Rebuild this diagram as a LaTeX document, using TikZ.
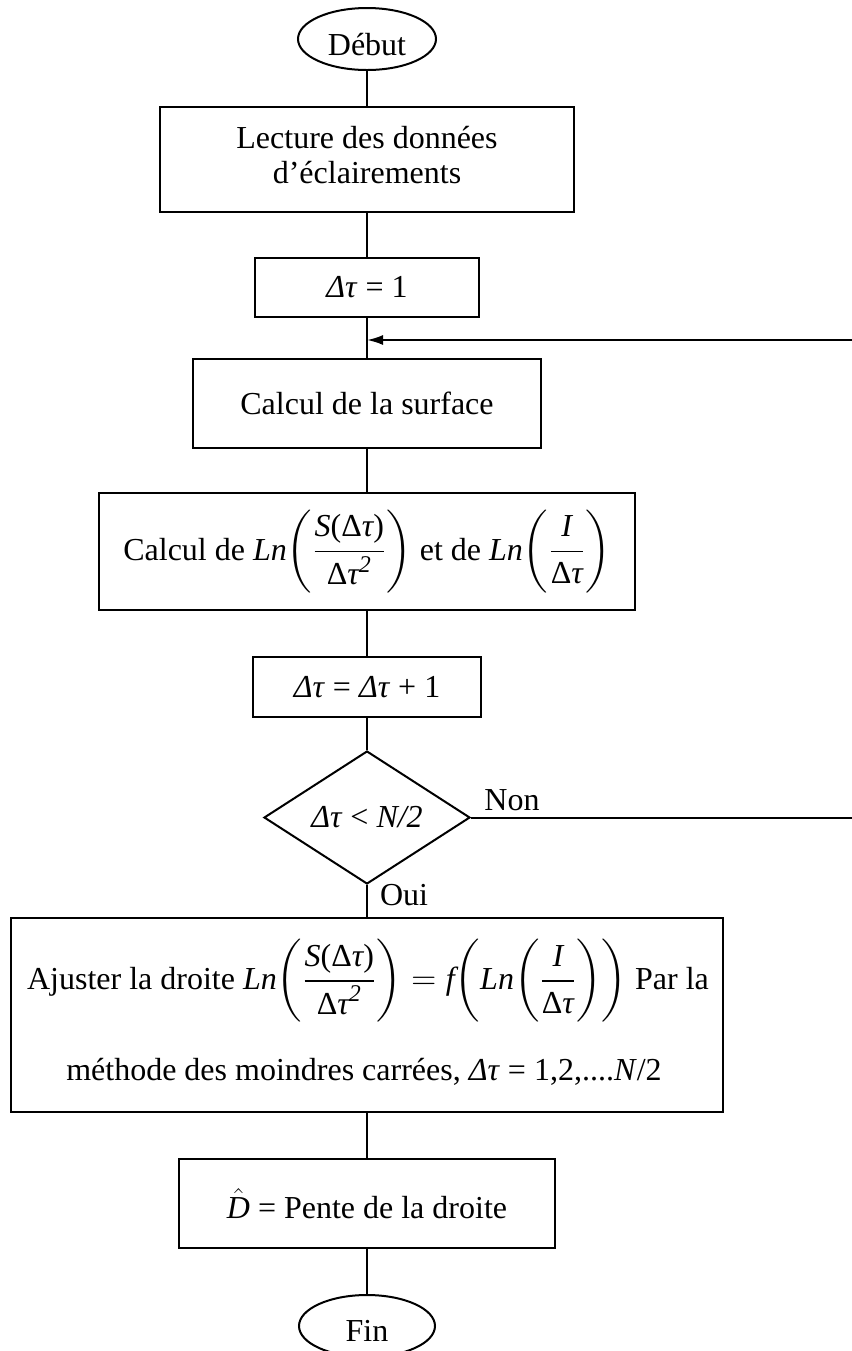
\documentclass[tikz,border=0pt]{standalone}
\usepackage{fontspec}
\setmainfont{Liberation Serif}
\usepackage{amsmath}
\usetikzlibrary{shapes.geometric,arrows.meta}
\newcommand{\ti}[1]{\mbox{\itshape #1}}
\newcommand{\dtu}{\mbox{Δ\itshape τ}}
\newcommand{\sqtwo}{\mbox{\fontsize{12}{12}\selectfont\itshape 2}}
\begin{document}
\begin{tikzpicture}[x=0.5pt,y=-0.5pt,
  every node/.style={font=\fontsize{16}{17.5}\selectfont},
  procbox/.style={draw,line width=1pt,rectangle,inner sep=0pt,align=center},
  term/.style={draw,line width=1pt,ellipse,inner sep=0pt},
  decision/.style={draw,line width=1pt,diamond,inner sep=0pt},
  link/.style={line width=1pt},
  lbl/.style={inner sep=0pt}]
\useasboundingbox (0,0) rectangle (852,1351);
% nodes
\node[term,minimum width=69pt,minimum height=31pt] (debut) at (367,39) {};
\node[lbl] (debuttxt) at (367,45) {Début};
\node[procbox,minimum width=207pt,minimum height=52.5pt] (box1) at (367,159.5) {};
\node[lbl,align=center] (box1txt) at (367,155) {Lecture des données\\d’éclairements};
\node[procbox,minimum width=112pt,minimum height=29.5pt] (box2) at (367,287.5) {\textit{Δτ} = 1};
\node[procbox,minimum width=174pt,minimum height=44.5pt] (box3) at (367,403.5) {Calcul de la surface};
\node[procbox,minimum width=268pt,minimum height=58.5pt] (box4) at (367,551.5)
  {Calcul de $\ti{Ln}\!\left(\dfrac{\ti{S}\mbox{(}\dtu\mbox{)}}{\dtu^{\sqtwo}}\right)$ et de $\ti{Ln}\!\left(\dfrac{\ti{I}}{\dtu}\right)$};
\node[procbox,minimum width=114pt,minimum height=30pt] (box5) at (367,687) {\textit{Δτ} = \textit{Δτ} + 1};
\node[decision,minimum width=103pt,minimum height=58.5pt] (dec) at (367,817.5) {\textit{Δτ} < \textit{N/2}};
\node[procbox,minimum width=356pt,minimum height=97pt] (box6) at (367,1015) {};
\node[lbl] (row1) at (368,981)
  {Ajuster la droite $\ti{Ln}\!\left(\dfrac{\ti{S}\mbox{(}\dtu\mbox{)}}{\dtu^{\sqtwo}}\right) = \ti{f}\!\left(\ti{Ln}\!\left(\dfrac{\ti{I}}{\dtu}\right)\right)$ Par la};
\node[lbl] (row2) at (364,1072) {méthode des moindres carrées, \textit{Δτ} = 1,2,....\textit{N}/2};
\node[procbox,minimum width=188pt,minimum height=44.5pt] (box7) at (367,1203.5) {$\hat{\ti{D}}$ = Pente de la droite};
\node[term,minimum width=68pt,minimum height=31pt] (fin) at (367,1326) {};
\node[lbl] (fintxt) at (367,1331) {Fin};
% connectors
\draw[link] (debut) -- (box1);
\draw[link] (box1) -- (box2);
\draw[link] (box2) -- (box3);
\draw[link] (box3) -- (box4);
\draw[link] (box4) -- (box5);
\draw[link] (box5) -- (dec);
\draw[link] (dec) -- (box6);
\draw[link] (box6) -- (box7);
\draw[link] (box7) -- (fin);
\coordinate (loopin) at (852,340);
\draw[link,-{Latex[length=8pt,width=5pt]}] (loopin) -- (loopin -| box2.south);
\coordinate (loopout) at (852,817.5);
\draw[link] (dec.east) -- (loopout);
\node[lbl] (non) at (512,800) {Non};
\node[lbl] (oui) at (404,895) {Oui};
\end{tikzpicture}
\end{document}
